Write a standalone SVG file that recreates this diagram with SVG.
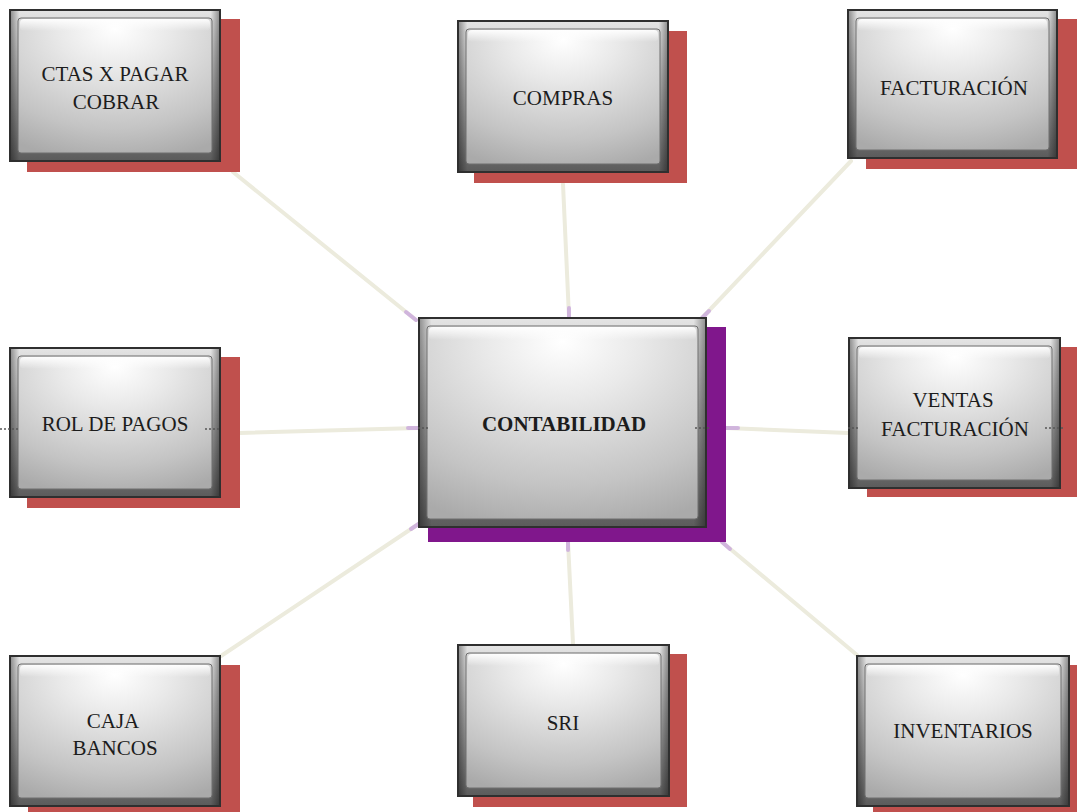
<svg xmlns="http://www.w3.org/2000/svg" width="1077" height="812" viewBox="0 0 1077 812">
  <defs>
    <!-- chiselled frame of each button-like box -->
    <linearGradient id="frameG" x1="0" y1="0" x2="0" y2="1">
      <stop offset="0" stop-color="#e4e4e4"/>
      <stop offset="0.5" stop-color="#a0a0a0"/>
      <stop offset="1" stop-color="#5c5c5c"/>
    </linearGradient>
    <linearGradient id="sideG" x1="0" y1="0" x2="1" y2="0">
      <stop offset="0" stop-color="#000" stop-opacity="0.35"/>
      <stop offset="0.04" stop-color="#000" stop-opacity="0"/>
      <stop offset="0.96" stop-color="#000" stop-opacity="0"/>
      <stop offset="1" stop-color="#000" stop-opacity="0.35"/>
    </linearGradient>
    <!-- glossy face: bright near the top, grey towards the bottom -->
    <radialGradient id="faceG" cx="0.5" cy="0.12" r="0.95" fx="0.5" fy="0.08">
      <stop offset="0" stop-color="#ffffff"/>
      <stop offset="0.3" stop-color="#e9e9e9"/>
      <stop offset="0.75" stop-color="#c4c4c4"/>
      <stop offset="1" stop-color="#aaaaaa"/>
    </radialGradient>
    <linearGradient id="shineG" x1="0" y1="0" x2="0" y2="1">
      <stop offset="0" stop-color="#ffffff" stop-opacity="0.95"/>
      <stop offset="1" stop-color="#ffffff" stop-opacity="0"/>
    </linearGradient>
    <linearGradient id="linkTintG" x1="0" y1="0" x2="1" y2="0">
      <stop offset="0" stop-color="#b58cd0" stop-opacity="0"/>
      <stop offset="1" stop-color="#b58cd0" stop-opacity="0.8"/>
    </linearGradient>
  </defs>
  <style>
    .shadow { fill: #c0504d; }
    .shadow-main { fill: #80178c; }
    .edge { fill: #2f2f2f; }
    .frame { fill: url(#frameG); }
    .sides { fill: url(#sideG); }
    .face { fill: url(#faceG); stroke: #6e6e6e; stroke-width: 1; }
    .shine { fill: url(#shineG); }
    .label { font-family: "Liberation Serif", "Times New Roman", serif; font-size: 21px; fill: #1c1c1c; text-anchor: middle; }
    .bold { font-weight: bold; }
    .link { stroke: #ecebdd; stroke-width: 4; stroke-linecap: round; fill: none; }
    .link-end { stroke: #c9a8dc; stroke-width: 4; stroke-linecap: round; fill: none; opacity: 0.8; }
    .site { stroke: #555; stroke-width: 1.5; stroke-dasharray: 2 2; fill: none; }
  </style>

  <rect x="0" y="0" width="1077" height="812" fill="#ffffff"/>

  <!-- connectors radiating from the central box -->
  <g id="connectors">
    <line class="link" x1="233" y1="172" x2="416" y2="320"/>
    <line class="link" x1="563" y1="184" x2="569" y2="317"/>
    <line class="link" x1="851" y1="161" x2="702" y2="318"/>
    <line class="link" x1="240" y1="433" x2="418" y2="428"/>
    <line class="link" x1="726" y1="428" x2="848" y2="433"/>
    <line class="link" x1="221" y1="656" x2="420" y2="523"/>
    <line class="link" x1="573" y1="644" x2="568" y2="542"/>
    <line class="link" x1="722" y1="542" x2="857" y2="655"/>
    <!-- purple tint where the links meet the central box -->
    <line class="link-end" x1="406" y1="312" x2="416" y2="320"/>
    <line class="link-end" x1="569" y1="308" x2="569" y2="317"/>
    <line class="link-end" x1="709" y1="311" x2="702" y2="318"/>
    <line class="link-end" x1="408" y1="428" x2="418" y2="428"/>
    <line class="link-end" x1="726" y1="428" x2="738" y2="428"/>
    <line class="link-end" x1="420" y1="523" x2="411" y2="529"/>
    <line class="link-end" x1="568" y1="542" x2="568" y2="550"/>
    <line class="link-end" x1="722" y1="542" x2="730" y2="549"/>
  </g>

  <g id="node-ctas">
    <rect class="shadow" x="27" y="19" width="213" height="153"/>
    <rect class="edge" x="9" y="9" width="212" height="153"/>
    <rect class="frame" x="11" y="11" width="208" height="149"/>
    <rect class="sides" x="11" y="11" width="208" height="149"/>
    <rect class="face" x="18" y="18" width="194" height="135" rx="3"/>
    <rect class="shine" x="20" y="19" width="190" height="12" rx="4"/>
    <text class="label" x="115" y="81">CTAS X PAGAR</text>
    <text class="label" x="116" y="109">COBRAR</text>
  </g>

  <g id="node-compras">
    <rect class="shadow" x="474" y="31" width="213" height="152"/>
    <rect class="edge" x="457" y="20" width="212" height="153"/>
    <rect class="frame" x="459" y="22" width="208" height="149"/>
    <rect class="sides" x="459" y="22" width="208" height="149"/>
    <rect class="face" x="466" y="29" width="194" height="135" rx="3"/>
    <rect class="shine" x="468" y="30" width="190" height="12" rx="4"/>
    <text class="label" x="563" y="105">COMPRAS</text>
  </g>

  <g id="node-facturacion">
    <rect class="shadow" x="866" y="19" width="211" height="150"/>
    <rect class="edge" x="847" y="9" width="211" height="150"/>
    <rect class="frame" x="849" y="11" width="207" height="146"/>
    <rect class="sides" x="849" y="11" width="207" height="146"/>
    <rect class="face" x="856" y="18" width="193" height="132" rx="3"/>
    <rect class="shine" x="858" y="19" width="189" height="12" rx="4"/>
    <text class="label" x="954" y="95">FACTURACIÓN</text>
  </g>

  <g id="node-rol">
    <rect class="shadow" x="27" y="357" width="213" height="151"/>
    <rect class="edge" x="9" y="347" width="212" height="151"/>
    <rect class="frame" x="11" y="349" width="208" height="147"/>
    <rect class="sides" x="11" y="349" width="208" height="147"/>
    <rect class="face" x="18" y="356" width="194" height="133" rx="3"/>
    <rect class="shine" x="20" y="357" width="190" height="12" rx="4"/>
    <line class="site" x1="0" y1="429" x2="20" y2="429"/>
    <line class="site" x1="205" y1="429" x2="221" y2="429"/>
    <text class="label" x="115" y="431">ROL DE PAGOS</text>
  </g>

  <g id="node-contabilidad">
    <rect class="shadow-main" x="428" y="327" width="298" height="215"/>
    <rect class="edge" x="418" y="317" width="289" height="211"/>
    <rect class="frame" x="420" y="319" width="285" height="207"/>
    <rect class="sides" x="420" y="319" width="285" height="207"/>
    <rect class="face" x="427" y="326" width="271" height="193" rx="3"/>
    <rect class="shine" x="429" y="327" width="267" height="13" rx="4"/>
    <line class="site" x1="418" y1="428" x2="430" y2="428"/>
    <line class="site" x1="695" y1="428" x2="710" y2="428"/>
    <text class="label bold" x="564" y="431">CONTABILIDAD</text>
  </g>

  <g id="node-ventas">
    <rect class="shadow" x="867" y="347" width="210" height="150"/>
    <rect class="edge" x="848" y="337" width="213" height="152"/>
    <rect class="frame" x="850" y="339" width="209" height="148"/>
    <rect class="sides" x="850" y="339" width="209" height="148"/>
    <rect class="face" x="857" y="346" width="195" height="134" rx="3"/>
    <rect class="shine" x="859" y="347" width="191" height="12" rx="4"/>
    <line class="site" x1="848" y1="428" x2="858" y2="428"/>
    <line class="site" x1="1045" y1="428" x2="1063" y2="428"/>
    <text class="label" x="953" y="407">VENTAS</text>
    <text class="label" x="955" y="436">FACTURACIÓN</text>
  </g>

  <g id="node-caja">
    <rect class="shadow" x="28" y="665" width="212" height="150"/>
    <rect class="edge" x="9" y="655" width="212" height="152"/>
    <rect class="frame" x="11" y="657" width="208" height="148"/>
    <rect class="sides" x="11" y="657" width="208" height="148"/>
    <rect class="face" x="18" y="664" width="194" height="134" rx="3"/>
    <rect class="shine" x="20" y="665" width="190" height="12" rx="4"/>
    <text class="label" x="113" y="728">CAJA</text>
    <text class="label" x="115" y="755">BANCOS</text>
  </g>

  <g id="node-sri">
    <rect class="shadow" x="473" y="654" width="214" height="153"/>
    <rect class="edge" x="457" y="644" width="213" height="153"/>
    <rect class="frame" x="459" y="646" width="209" height="149"/>
    <rect class="sides" x="459" y="646" width="209" height="149"/>
    <rect class="face" x="466" y="653" width="195" height="135" rx="3"/>
    <rect class="shine" x="468" y="654" width="191" height="12" rx="4"/>
    <text class="label" x="563" y="730">SRI</text>
  </g>

  <g id="node-inventarios">
    <rect class="shadow" x="873" y="665" width="204" height="150"/>
    <rect class="edge" x="856" y="655" width="214" height="152"/>
    <rect class="frame" x="858" y="657" width="210" height="148"/>
    <rect class="sides" x="858" y="657" width="210" height="148"/>
    <rect class="face" x="865" y="664" width="196" height="134" rx="3"/>
    <rect class="shine" x="867" y="665" width="192" height="12" rx="4"/>
    <text class="label" x="963" y="738">INVENTARIOS</text>
  </g>
</svg>
